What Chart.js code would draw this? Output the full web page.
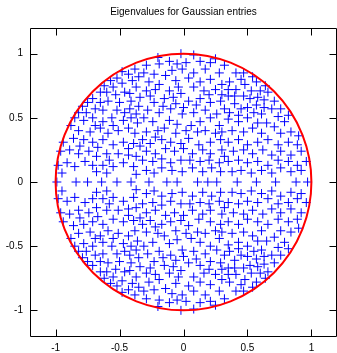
<!DOCTYPE html>
<html>
<head>
<meta charset="utf-8">
<script src="https://cdn.jsdelivr.net/npm/chart.js@4.4.1/dist/chart.umd.min.js"></script>
<style>
  html, body { margin: 0; padding: 0; background: #fff; }
</style>
</head>
<body>
<canvas id="eigChart" width="337" height="353"></canvas>
<script>
const titleText = "Eigenvalues for Gaussian entries";
const tickValues = [-1, -0.5, 0, 0.5, 1];
const axisRange = [-1.2, 1.2];

const eigUpper = [
  [-0.43,0.84],[-0.38,0.88],[-0.57,0.79],[-0.52,0.81],[-0.48,0.77],[-0.40,0.79],[-0.35,0.82],[-0.62,0.75],
  [-0.46,0.70],[-0.53,0.68],[-0.42,0.69],[-0.37,0.74],[-0.34,0.66],[-0.71,0.65],[-0.65,0.62],[-0.59,0.63],
  [-0.75,0.62],[-0.79,0.59],[-0.50,0.62],[-0.41,0.63],[-0.35,0.59],[-0.69,0.57],[-0.63,0.56],[-0.52,0.56],
  [-0.82,0.54],[-0.76,0.54],[-0.46,0.54],[-0.37,0.53],[-0.65,0.70],[-0.55,0.74],[-0.48,0.86],[-0.60,0.70],
  [-0.85,0.50],[-0.42,0.57],
  [-0.02,1.00],[-0.11,0.94],[-0.05,0.92],[0.02,0.93],[0.13,0.94],[0.21,0.93],[0.25,0.96],[-0.29,0.91],
  [-0.19,0.92],[0.32,0.91],[-0.31,0.85],[-0.23,0.84],[-0.09,0.87],[-0.01,0.88],[0.08,0.85],[0.17,0.88],
  [0.28,0.85],[-0.14,0.83],[0.04,0.81],[-0.27,0.78],[-0.19,0.76],[-0.06,0.79],[0.13,0.78],[0.21,0.80],
  [0.30,0.76],[-0.29,0.71],[-0.22,0.72],[-0.11,0.71],[0.08,0.74],[0.16,0.71],[0.25,0.72],[-0.02,0.69],
  [-0.23,0.62],[-0.15,0.65],[-0.06,0.61],[0.04,0.63],[0.13,0.65],[0.21,0.62],[0.29,0.63],[-0.28,0.56],
  [-0.19,0.54],[-0.10,0.57],[-0.01,0.53],[0.08,0.54],[0.17,0.56],[0.26,0.53],[0.32,0.57],[-0.20,0.97],
  [0.08,0.99],[-0.04,0.74],[0.20,0.68],[-0.16,0.59],[0.00,0.58],[-0.26,0.67],[0.10,0.60],[0.30,0.68],
  [-0.08,0.66],
  [0.41,0.85],[0.47,0.85],[0.54,0.82],[0.36,0.78],[0.41,0.72],[0.48,0.76],[0.57,0.78],[0.53,0.71],
  [0.60,0.71],[0.66,0.70],[0.35,0.67],[0.47,0.67],[0.52,0.65],[0.58,0.66],[0.71,0.63],[0.76,0.57],
  [0.82,0.52],[0.40,0.61],[0.45,0.57],[0.50,0.58],[0.57,0.60],[0.63,0.58],[0.69,0.57],[0.36,0.54],
  [0.43,0.52],[0.61,0.53],[0.74,0.51],[0.35,0.72],[0.64,0.75],[0.45,0.80],[0.55,0.54],[0.40,0.67],
  [0.63,0.64],
  [-0.78,0.48],[-0.71,0.50],[-0.63,0.47],[-0.56,0.50],[-0.47,0.48],[-0.41,0.50],[-0.36,0.46],[-0.82,0.40],
  [-0.73,0.39],[-0.65,0.42],[-0.59,0.38],[-0.51,0.40],[-0.43,0.42],[-0.38,0.38],[-0.94,0.31],[-0.86,0.34],
  [-0.78,0.33],[-0.71,0.31],[-0.63,0.33],[-0.55,0.29],[-0.47,0.31],[-0.39,0.30],[-0.34,0.28],[-0.96,0.24],
  [-0.89,0.25],[-0.82,0.22],[-0.74,0.24],[-0.68,0.20],[-0.60,0.22],[-0.51,0.22],[-0.43,0.21],[-0.37,0.20],
  [-0.98,0.13],[-0.91,0.15],[-0.85,0.12],[-0.77,0.16],[-0.71,0.13],[-0.63,0.13],[-0.55,0.12],[-0.47,0.15],
  [-0.39,0.12],[-0.95,0.07],[-0.60,0.07],[-0.37,0.06],[-0.88,0.44],[-0.69,0.44],[-0.55,0.44],[-0.67,0.27],
  [-0.43,0.26],[-0.58,0.17],[-0.81,0.28],[-0.68,0.08],
  [-0.31,0.50],[-0.24,0.47],[-0.11,0.48],[0.06,0.44],[0.13,0.47],[0.21,0.50],[0.28,0.44],[-0.29,0.39],
  [-0.20,0.40],[-0.15,0.42],[-0.06,0.38],[0.02,0.40],[0.11,0.39],[0.17,0.40],[0.25,0.38],[0.30,0.39],
  [-0.32,0.33],[-0.26,0.30],[-0.17,0.33],[-0.10,0.31],[-0.02,0.30],[0.04,0.34],[0.12,0.29],[0.21,0.31],
  [0.29,0.33],[-0.29,0.24],[-0.22,0.22],[-0.14,0.26],[-0.07,0.24],[0.00,0.26],[0.07,0.22],[0.15,0.25],
  [0.21,0.22],[0.30,0.25],[-0.32,0.17],[-0.24,0.16],[-0.17,0.18],[-0.10,0.15],[-0.02,0.17],[0.05,0.17],
  [0.13,0.16],[0.20,0.17],[0.28,0.15],[0.32,0.20],[-0.29,0.09],[-0.23,0.07],[-0.17,0.11],[-0.09,0.09],
  [-0.01,0.08],[0.07,0.11],[0.15,0.08],[0.22,0.11],[0.29,0.08],[-0.05,0.45],[-0.22,0.35],
  [0.35,0.49],[0.43,0.47],[0.50,0.50],[0.65,0.46],[0.71,0.43],[0.79,0.47],[0.38,0.40],[0.47,0.39],
  [0.54,0.42],[0.61,0.38],[0.76,0.38],[0.84,0.39],[0.90,0.36],[0.35,0.31],[0.43,0.33],[0.50,0.29],
  [0.58,0.31],[0.66,0.33],[0.74,0.29],[0.82,0.31],[0.89,0.29],[0.39,0.24],[0.47,0.25],[0.54,0.22],
  [0.62,0.25],[0.69,0.21],[0.76,0.24],[0.84,0.21],[0.92,0.24],[0.35,0.16],[0.43,0.17],[0.50,0.15],
  [0.58,0.16],[0.66,0.13],[0.74,0.17],[0.82,0.16],[0.89,0.13],[0.96,0.16],[0.38,0.08],[0.45,0.09],
  [0.53,0.07],[0.61,0.09],[0.69,0.07],[0.76,0.11],[0.84,0.08],[0.92,0.09],[0.58,0.46]
];

const eigLower = [
  [-0.43,-0.84],[-0.38,-0.88],[-0.57,-0.79],[-0.52,-0.81],[-0.48,-0.77],[-0.40,-0.79],[-0.35,-0.82],[-0.62,-0.75],
  [-0.46,-0.70],[-0.53,-0.68],[-0.42,-0.69],[-0.37,-0.74],[-0.34,-0.66],[-0.71,-0.65],[-0.65,-0.62],[-0.59,-0.63],
  [-0.75,-0.62],[-0.79,-0.59],[-0.50,-0.62],[-0.41,-0.63],[-0.35,-0.59],[-0.69,-0.57],[-0.63,-0.56],[-0.52,-0.56],
  [-0.82,-0.54],[-0.76,-0.54],[-0.46,-0.54],[-0.37,-0.53],[-0.65,-0.70],[-0.55,-0.74],[-0.48,-0.86],[-0.60,-0.70],
  [-0.85,-0.50],[-0.42,-0.57],
  [-0.02,-1.00],[-0.11,-0.94],[-0.05,-0.92],[0.02,-0.93],[0.13,-0.94],[0.21,-0.93],[0.25,-0.96],[-0.29,-0.91],
  [-0.19,-0.92],[0.32,-0.91],[-0.31,-0.85],[-0.23,-0.84],[-0.09,-0.87],[-0.01,-0.88],[0.08,-0.85],[0.17,-0.88],
  [0.28,-0.85],[-0.14,-0.83],[0.04,-0.81],[-0.27,-0.78],[-0.19,-0.76],[-0.06,-0.79],[0.13,-0.78],[0.21,-0.80],
  [0.30,-0.76],[-0.29,-0.71],[-0.22,-0.72],[-0.11,-0.71],[0.08,-0.74],[0.16,-0.71],[0.25,-0.72],[-0.02,-0.69],
  [-0.23,-0.62],[-0.15,-0.65],[-0.06,-0.61],[0.04,-0.63],[0.13,-0.65],[0.21,-0.62],[0.29,-0.63],[-0.28,-0.56],
  [-0.19,-0.54],[-0.10,-0.57],[-0.01,-0.53],[0.08,-0.54],[0.17,-0.56],[0.26,-0.53],[0.32,-0.57],[-0.20,-0.97],
  [0.08,-0.99],[-0.04,-0.74],[0.20,-0.68],[-0.16,-0.59],[0.00,-0.58],[-0.26,-0.67],[0.10,-0.60],[0.30,-0.68],
  [-0.08,-0.66],
  [0.41,-0.85],[0.47,-0.85],[0.54,-0.82],[0.36,-0.78],[0.41,-0.72],[0.48,-0.76],[0.57,-0.78],[0.53,-0.71],
  [0.60,-0.71],[0.66,-0.70],[0.35,-0.67],[0.47,-0.67],[0.52,-0.65],[0.58,-0.66],[0.71,-0.63],[0.76,-0.57],
  [0.82,-0.52],[0.40,-0.61],[0.45,-0.57],[0.50,-0.58],[0.57,-0.60],[0.63,-0.58],[0.69,-0.57],[0.36,-0.54],
  [0.43,-0.52],[0.61,-0.53],[0.74,-0.51],[0.35,-0.72],[0.64,-0.75],[0.45,-0.80],[0.55,-0.54],[0.40,-0.67],
  [0.63,-0.64],
  [-0.78,-0.48],[-0.71,-0.50],[-0.63,-0.47],[-0.56,-0.50],[-0.47,-0.48],[-0.41,-0.50],[-0.36,-0.46],[-0.82,-0.40],
  [-0.73,-0.39],[-0.65,-0.42],[-0.59,-0.38],[-0.51,-0.40],[-0.43,-0.42],[-0.38,-0.38],[-0.94,-0.31],[-0.86,-0.34],
  [-0.78,-0.33],[-0.71,-0.31],[-0.63,-0.33],[-0.55,-0.29],[-0.47,-0.31],[-0.39,-0.30],[-0.34,-0.28],[-0.96,-0.24],
  [-0.89,-0.25],[-0.82,-0.22],[-0.74,-0.24],[-0.68,-0.20],[-0.60,-0.22],[-0.51,-0.22],[-0.43,-0.21],[-0.37,-0.20],
  [-0.98,-0.13],[-0.91,-0.15],[-0.85,-0.12],[-0.77,-0.16],[-0.71,-0.13],[-0.63,-0.13],[-0.55,-0.12],[-0.47,-0.15],
  [-0.39,-0.12],[-0.95,-0.07],[-0.60,-0.07],[-0.37,-0.06],[-0.88,-0.44],[-0.69,-0.44],[-0.55,-0.44],[-0.67,-0.27],
  [-0.43,-0.26],[-0.58,-0.17],[-0.81,-0.28],[-0.68,-0.08],
  [-0.31,-0.50],[-0.24,-0.47],[-0.11,-0.48],[0.06,-0.44],[0.13,-0.47],[0.21,-0.50],[0.28,-0.44],[-0.29,-0.39],
  [-0.20,-0.40],[-0.15,-0.42],[-0.06,-0.38],[0.02,-0.40],[0.11,-0.39],[0.17,-0.40],[0.25,-0.38],[0.30,-0.39],
  [-0.32,-0.33],[-0.26,-0.30],[-0.17,-0.33],[-0.10,-0.31],[-0.02,-0.30],[0.04,-0.34],[0.12,-0.29],[0.21,-0.31],
  [0.29,-0.33],[-0.29,-0.24],[-0.22,-0.22],[-0.14,-0.26],[-0.07,-0.24],[0.00,-0.26],[0.07,-0.22],[0.15,-0.25],
  [0.21,-0.22],[0.30,-0.25],[-0.32,-0.17],[-0.24,-0.16],[-0.17,-0.18],[-0.10,-0.15],[-0.02,-0.17],[0.05,-0.17],
  [0.13,-0.16],[0.20,-0.17],[0.28,-0.15],[0.32,-0.20],[-0.29,-0.09],[-0.23,-0.07],[-0.17,-0.11],[-0.09,-0.09],
  [-0.01,-0.08],[0.07,-0.11],[0.15,-0.08],[0.22,-0.11],[0.29,-0.08],[-0.05,-0.45],[-0.22,-0.35],
  [0.35,-0.49],[0.43,-0.47],[0.50,-0.50],[0.65,-0.46],[0.71,-0.43],[0.79,-0.47],[0.38,-0.40],[0.47,-0.39],
  [0.54,-0.42],[0.61,-0.38],[0.76,-0.38],[0.84,-0.39],[0.90,-0.36],[0.35,-0.31],[0.43,-0.33],[0.50,-0.29],
  [0.58,-0.31],[0.66,-0.33],[0.74,-0.29],[0.82,-0.31],[0.89,-0.29],[0.39,-0.24],[0.47,-0.25],[0.54,-0.22],
  [0.62,-0.25],[0.69,-0.21],[0.76,-0.24],[0.84,-0.21],[0.92,-0.24],[0.35,-0.16],[0.43,-0.17],[0.50,-0.15],
  [0.58,-0.16],[0.66,-0.13],[0.74,-0.17],[0.82,-0.16],[0.89,-0.13],[0.96,-0.16],[0.38,-0.08],[0.45,-0.09],
  [0.53,-0.07],[0.61,-0.09],[0.69,-0.07],[0.76,-0.11],[0.84,-0.08],[0.92,-0.09],[0.58,-0.46]
];

const eigReal = [-0.99, -0.84, -0.75, -0.64, -0.52, -0.41, -0.27, -0.13, -0.05, 0.11, 0.19, 0.26, 0.42, 0.57, 0.72, 0.88, 0.97];

const circleCenter = [0, 0];
const circleRadius = [1];

const fontSpec = { family: "'Liberation Sans', Arial, sans-serif", size: 10 };

const eigPoints = eigUpper.concat(eigLower).map(p => ({ x: p[0], y: p[1] }))
  .concat(eigReal.map(v => ({ x: v, y: 0 })));

const framePlugin = {
  id: "frame",
  afterDraw(chart) {
    const { ctx, chartArea: a, scales } = chart;
    const L = Math.round(a.left) + 0.5, R = Math.round(a.right) - 0.5;
    const T = Math.round(a.top) + 0.5, B = Math.round(a.bottom) + 0.5;
    const tl = 7;
    ctx.save();
    ctx.strokeStyle = "#000";
    ctx.lineWidth = 1;
    ctx.beginPath();
    ctx.rect(L, T, R - L, B - T);
    tickValues.forEach(v => {
      const px = Math.round(scales.x.getPixelForValue(v)) + 0.5;
      ctx.moveTo(px, B); ctx.lineTo(px, B - tl);
      ctx.moveTo(px, T); ctx.lineTo(px, T + tl);
      const py = Math.round(scales.y.getPixelForValue(v)) + 0.5;
      ctx.moveTo(L, py); ctx.lineTo(L + tl, py);
      ctx.moveTo(R, py); ctx.lineTo(R - tl, py);
    });
    ctx.stroke();
    ctx.restore();
  }
};

const circlePlugin = {
  id: "unitCircle",
  afterDatasetsDraw(chart) {
    const { ctx, scales } = chart;
    const cx = scales.x.getPixelForValue(circleCenter[0]);
    const cy = scales.y.getPixelForValue(circleCenter[1]);
    const rx = scales.x.getPixelForValue(circleCenter[0] + circleRadius[0]) - cx;
    const ry = cy - scales.y.getPixelForValue(circleCenter[1] + circleRadius[0]);
    ctx.save();
    ctx.strokeStyle = "#ff0000";
    ctx.lineWidth = 2;
    ctx.beginPath();
    ctx.ellipse(cx, cy, rx, ry, 0, 0, Math.PI * 2);
    ctx.stroke();
    ctx.restore();
  }
};

const setTicks = scale => { scale.ticks = tickValues.map(v => ({ value: v })); };
const tickLabel = value => String(value);

new Chart(document.getElementById("eigChart"), {
  type: "scatter",
  data: {
    datasets: [{
      label: "eigenvalues",
      data: eigPoints,
      pointStyle: "cross",
      pointRadius: 4.5,
      pointHoverRadius: 4.5,
      borderColor: "#0000ff",
      backgroundColor: "#0000ff",
      borderWidth: 1
    }]
  },
  options: {
    responsive: false,
    animation: false,
    devicePixelRatio: 1,
    events: [],
    layout: { padding: 0, autoPadding: false },
    plugins: {
      legend: { display: false },
      tooltip: { enabled: false },
      title: {
        display: true,
        text: titleText,
        color: "#000",
        font: { ...fontSpec, weight: "normal" },
        fullSize: false,
        padding: { top: 6, bottom: 10 }
      }
    },
    scales: {
      x: {
        type: "linear",
        min: axisRange[0],
        max: axisRange[1],
        grid: { display: false, drawTicks: false },
        border: { display: false },
        ticks: { color: "#000", font: fontSpec, padding: 6, maxRotation: 0, includeBounds: false, callback: tickLabel },
        afterBuildTicks: setTicks,
        afterFit(scale) { scale.height = 17; }
      },
      y: {
        type: "linear",
        min: axisRange[0],
        max: axisRange[1],
        grid: { display: false, drawTicks: false },
        border: { display: false },
        ticks: { color: "#000", font: fontSpec, padding: 7, includeBounds: false, callback: tickLabel },
        afterBuildTicks: setTicks,
        afterFit(scale) { scale.width = 30; }
      }
    }
  },
  plugins: [circlePlugin, framePlugin]
});
</script>
</body>
</html>
